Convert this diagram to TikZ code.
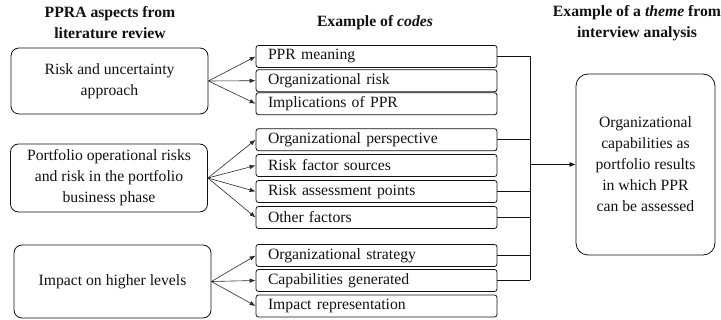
\documentclass[tikz,border=0pt]{standalone}
\usepackage{fontspec}
\setmainfont{Liberation Serif}
\usepackage{xcolor}
\usepackage{tikz}
\usetikzlibrary{arrows.meta,positioning,calc}
\definecolor{inkK}{HTML}{111111}
\definecolor{lineG}{HTML}{2A2A2A}
\newcommand{\diagfont}{\fontsize{15.7}{21}\selectfont}

\tikzset{
  aspectbox/.style={draw=inkK, line width=0.8pt, rounded corners=8pt,
    minimum width=197pt, align=center, text=inkK},
  codebox/.style={draw=inkK, line width=0.8pt, rounded corners=2.5pt,
    minimum width=241pt, minimum height=22pt, inner xsep=12pt, inner ysep=0pt,
    text width=217pt, align=left, text=inkK},
  themebox/.style={draw=inkK, line width=0.8pt, rounded corners=12pt,
    minimum width=139pt, minimum height=181pt, align=center, text=inkK},
  headtxt/.style={align=center, font=\diagfont\bfseries, text=inkK},
  feed/.style={draw=lineG, line width=0.6pt, -{Latex[length=6pt,width=4.5pt]}},
  busline/.style={draw=inkK, line width=0.7pt},
}

\begin{document}
\begin{tikzpicture}[x=1pt, y=-1pt, font=\diagfont]
  \useasboundingbox (0,0) rectangle (721,320);

  % column titles
  \node[headtxt] (hAspects) at (110,23) {PPRA aspects from\\literature review};
  \node[headtxt] (hCodes) at (375,23) {Example of \textit{codes}};
  \node[headtxt] (hTheme) at (637,23) {Example of a \textit{theme} from\\interview analysis};

  % aspects from the literature
  \node[aspectbox, minimum height=66pt] (riskUnc) at (109.5,81)
    {Risk and uncertainty\\approach};
  \node[aspectbox, minimum height=68pt] (portOps) at (109,178)
    {Portfolio operational risks\\and risk in the portfolio\\business phase};
  \node[aspectbox, minimum height=73pt] (impactHi) at (112.5,281.5)
    {Impact on higher levels};

  % codes
  \node[codebox] (pprMeaning) at (376.5,56.5) {PPR meaning};
  \node[codebox] (orgRisk) at (376.5,80.7) {Organizational risk};
  \node[codebox] (pprImpl) at (376.5,103.7) {Implications of PPR};

  \node[codebox] (orgPersp) at (376.5,139.7) {Organizational perspective};
  \node[codebox] (riskSrc) at (376.5,165.5) {Risk factor sources};
  \node[codebox] (riskPts) at (376.5,191.5) {Risk assessment points};
  \node[codebox] (otherFac) at (376.5,217.5) {Other factors};

  \node[codebox] (orgStrat) at (376.5,255.5) {Organizational strategy};
  \node[codebox] (capGen) at (376.5,280.5) {Capabilities generated};
  \node[codebox] (impRepr) at (376.5,306) {Impact representation};

  % theme
  \node[themebox] (theme) at (645.5,164.5)
    {Organizational\\capabilities as\\portfolio results\\in which PPR\\can be assessed};

  % aspects -> codes
  \foreach \c in {pprMeaning,orgRisk,pprImpl}
    \draw[feed] (riskUnc.east) -- (\c.west);
  \foreach \c in {orgPersp,riskSrc,riskPts,otherFac}
    \draw[feed] (portOps.east) -- (\c.west);
  \foreach \c in {orgStrat,capGen,impRepr}
    \draw[feed] (impactHi.east) -- (\c.west);

  % codes -> theme
  \coordinate (bus) at (530,0);
  \draw[busline] (pprMeaning.east) -- (pprMeaning.east -| bus) -- (capGen.east -| bus);
  \foreach \c in {orgPersp,riskPts,otherFac,orgStrat,capGen}
    \draw[busline] (\c.east) -- (\c.east -| bus);
  \draw[busline, -{Latex[length=6pt,width=5pt]}] (theme.west -| bus) -- (theme.west);
\end{tikzpicture}
\end{document}
